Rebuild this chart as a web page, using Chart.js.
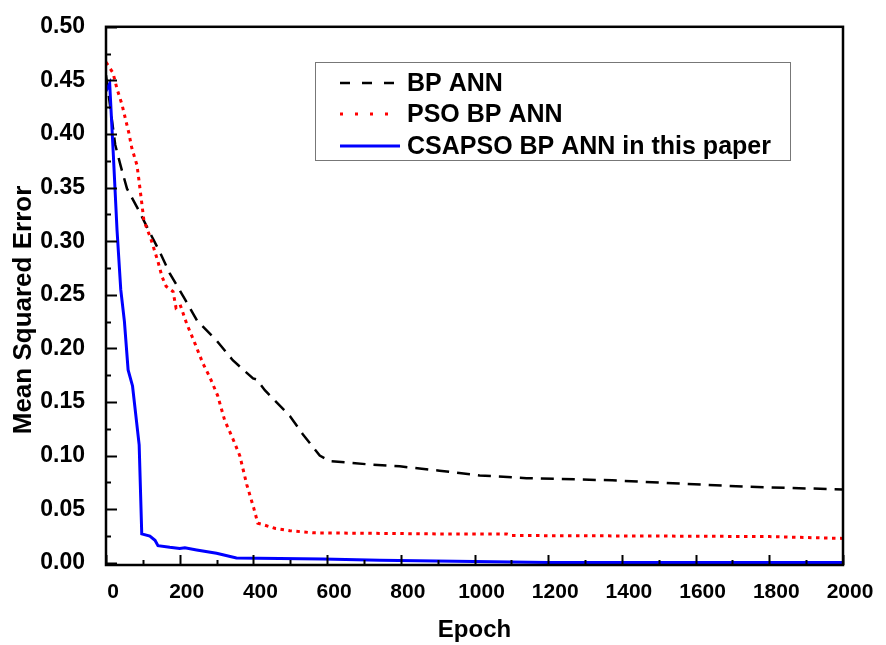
<!DOCTYPE html>
<html>
<head>
<meta charset="utf-8">
<script src="https://cdn.jsdelivr.net/npm/chart.js@4.4.1/dist/chart.umd.min.js"></script>
<style>
  body { margin: 0; background: #fff; }
  canvas { display: block; }
</style>
</head>
<body>
<canvas id="grafico" width="886" height="645"></canvas>
<script>
// Datos (epoch, error cuadratico medio)
const epocasBP = [0, 25, 40, 57, 87, 119, 146, 173, 214, 247, 301, 344, 399, 409, 431, 499, 534, 580, 607, 724, 797, 905, 1014, 1141, 1374, 1556, 1737, 2000];
const errorBP = [0.455, 0.39, 0.37, 0.349, 0.33, 0.308, 0.29, 0.27, 0.246, 0.226, 0.207, 0.189, 0.172, 0.171, 0.161, 0.137, 0.120, 0.100, 0.095, 0.0915, 0.090, 0.086, 0.0815, 0.079, 0.077, 0.074, 0.071, 0.0685];

const epocasPSO = [0, 19, 30, 43, 62, 70, 84, 89, 103, 122, 141, 152, 163, 182, 190, 201, 219, 241, 263, 282, 303, 322, 344, 363, 382, 401, 412, 423, 460, 499, 561, 905, 1087, 1100, 1500, 1800, 2000];
const errorPSO = [0.467, 0.457, 0.442, 0.428, 0.401, 0.387, 0.371, 0.358, 0.319, 0.302, 0.281, 0.267, 0.258, 0.253, 0.238, 0.241, 0.223, 0.205, 0.186, 0.173, 0.156, 0.133, 0.116, 0.100, 0.073, 0.051, 0.037, 0.036, 0.032, 0.030, 0.028, 0.027, 0.027, 0.0255, 0.025, 0.0245, 0.0228];

const epocasCSAPSO = [0, 10, 20, 30, 40, 50, 60, 72, 90, 97, 119, 133, 141, 173, 200, 214, 246, 300, 354, 588, 743, 1100, 1200, 2000];
const errorCSAPSO = [0.44, 0.447, 0.38, 0.31, 0.255, 0.225, 0.18, 0.165, 0.11, 0.027, 0.025, 0.021, 0.016, 0.0145, 0.0135, 0.014, 0.012, 0.009, 0.0045, 0.0035, 0.0025, 0.0008, 0.0003, 0.0003];

const etiquetas = ['BP ANN', 'PSO BP ANN', 'CSAPSO BP ANN in this paper'];

const fuente = 'Arial, "Liberation Sans", sans-serif';
Chart.defaults.font.family = fuente;
Chart.defaults.color = '#000';

function puntos(xs, ys) {
    return xs.map((x, i) => ({ x: x, y: ys[i] }));
}

// trazos de la leyenda (mas espaciados que en la grafica)
const trazosLeyenda = [[10, 12], [3, 12], []];

// Marco, ticks hacia dentro, titulo del eje Y y leyenda
const decoracion = {
    id: 'decoracion',
    afterDatasetsDraw(chart) {
        const ctx = chart.ctx;
        const a = chart.chartArea;
        const sx = chart.scales.x;
        const sy = chart.scales.y;
        ctx.save();
        ctx.strokeStyle = '#000';
        ctx.lineWidth = 2;
        // ticks eje X
        for (let v = 0; v <= 2000; v += 100) {
            const px = Math.round(sx.getPixelForValue(v)) + 0.5;
            const largo = (v % 200 === 0) ? 10 : 5;
            ctx.beginPath();
            ctx.moveTo(px, a.bottom);
            ctx.lineTo(px, a.bottom - largo);
            ctx.stroke();
        }
        // ticks eje Y
        for (let k = 0; k <= 20; k++) {
            const v = k * 0.025;
            const py = Math.round(sy.getPixelForValue(v)) + 0.5;
            const largo = (k % 2 === 0) ? 11 : 5;
            ctx.beginPath();
            ctx.moveTo(a.left, py);
            ctx.lineTo(a.left + largo, py);
            ctx.stroke();
        }
        ctx.lineWidth = 2.5;
        ctx.strokeRect(a.left, a.top, a.right - a.left, a.bottom - a.top);

        // titulo eje Y
        ctx.fillStyle = '#000';
        ctx.font = 'bold 26px ' + fuente;
        ctx.textAlign = 'center';
        ctx.textBaseline = 'middle';
        ctx.translate(24, 310);
        ctx.rotate(-Math.PI / 2);
        ctx.fillText('Mean Squared Error', 0, 0);
        ctx.restore();

        // leyenda
        ctx.save();
        ctx.fillStyle = '#fff';
        ctx.fillRect(315, 62, 475, 98);
        ctx.strokeStyle = '#777';
        ctx.lineWidth = 1;
        ctx.strokeRect(315.5, 62.5, 475, 98);
        const filas = [83, 114, 146];
        chart.data.datasets.forEach((ds, i) => {
            ctx.beginPath();
            ctx.strokeStyle = ds.borderColor;
            ctx.lineWidth = ds.borderWidth;
            ctx.setLineDash(trazosLeyenda[i]);
            ctx.moveTo(340, filas[i]);
            ctx.lineTo(400, filas[i]);
            ctx.stroke();
            ctx.setLineDash([]);
            ctx.fillStyle = '#000';
            ctx.font = 'bold 25px ' + fuente;
            ctx.textAlign = 'left';
            ctx.textBaseline = 'middle';
            ctx.fillText(ds.label, 407, filas[i] + 1);
        });
        ctx.restore();
    }
};

new Chart(document.getElementById('grafico'), {
    type: 'line',
    data: {
        datasets: [
            {
                label: etiquetas[0],
                data: puntos(epocasBP, errorBP),
                borderColor: '#000',
                borderWidth: 2.5,
                borderDash: [13, 8],
                order: 3
            },
            {
                label: etiquetas[1],
                data: puntos(epocasPSO, errorPSO),
                borderColor: '#ff0000',
                borderWidth: 3,
                borderDash: [3.5, 4.5],
                order: 2
            },
            {
                label: etiquetas[2],
                data: puntos(epocasCSAPSO, errorCSAPSO),
                borderColor: '#0000ff',
                borderWidth: 3,
                order: 1
            }
        ]
    },
    options: {
        responsive: false,
        animation: false,
        layout: { padding: { top: 18, right: 43, left: 0, bottom: 0 } },
        elements: { point: { radius: 0 }, line: { tension: 0, fill: false } },
        plugins: { legend: { display: false }, tooltip: { enabled: false } },
        scales: {
            x: {
                type: 'linear',
                min: 0,
                max: 2000,
                grid: { display: false },
                border: { display: false },
                ticks: {
                    stepSize: 200,
                    padding: 7,
                    labelOffset: 7,
                    autoSkip: false,
                    maxRotation: 0,
                    color: '#000',
                    font: { size: 21, weight: 'bold' },
                    callback: v => String(v)
                },
                title: {
                    display: true,
                    text: 'Epoch',
                    color: '#000',
                    font: { size: 24, weight: 'bold' },
                    padding: { top: 0, bottom: 0 }
                },
                afterFit: s => { s.height = 80; }
            },
            y: {
                min: -0.002,
                max: 0.5,
                grid: { display: false },
                border: { display: false },
                ticks: {
                    stepSize: 0.05,
                    includeBounds: false,
                    padding: 13,
                    color: '#000',
                    font: { size: 23, weight: 'bold' },
                    callback: v => v.toFixed(2)
                },
                afterFit: s => { s.width = 106; }
            }
        }
    },
    plugins: [decoracion]
});
</script>
</body>
</html>
